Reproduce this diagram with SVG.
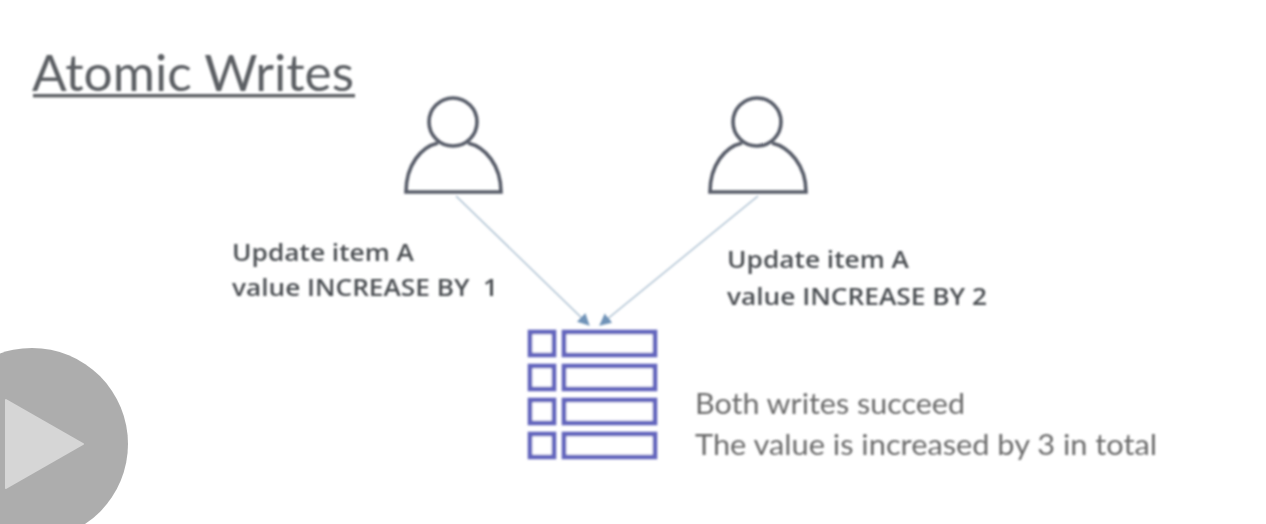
<svg xmlns="http://www.w3.org/2000/svg" width="1266" height="524" viewBox="0 0 1266 524">
<defs>
<filter id="blur" x="-10%" y="-10%" width="120%" height="120%"><feGaussianBlur stdDeviation="1.3"/></filter>
<marker id="arrow" markerUnits="userSpaceOnUse" markerWidth="14" markerHeight="14" refX="11" refY="6" orient="auto"><path d="M0,0 L12,6 L0,12 Z" fill="#6f93b8"/></marker>
</defs>
<style>
.person{fill:none;stroke:#565b68;stroke-width:3.6}
.cell{fill:#fff;stroke:#6466bd;stroke-width:4.6}
.conn{fill:none;stroke:#a4bacd;stroke-width:1.3;marker-end:url(#arrow)}
.label{font-family:"Open Sans","Liberation Sans",sans-serif;font-size:23px;font-weight:600;fill:#4c4f53}
.note{font-family:Lato,"Open Sans",sans-serif;font-size:28px;fill:#6a6a6a}
.title{font-family:Lato,"Liberation Sans",sans-serif;font-size:50px;font-weight:400;fill:#5c5f63}
</style>
<rect width="1266" height="524" fill="#fff"/>
<g filter="url(#blur)">
<g id="title">
<text class="title" x="32" y="91" textLength="322" lengthAdjust="spacingAndGlyphs">Atomic Writes</text>
<rect x="33" y="94" width="322" height="3.4" fill="#5c5f63"/>
</g>
<g id="user-1" class="person">
<circle cx="453" cy="122" r="24"/>
<path d="M438,143 C421,147 406,165 406,192 H501 C501,165 485,147 468,143"/>
</g>
<g id="user-2" class="person">
<circle cx="757" cy="122" r="24"/>
<path d="M742,143 C725,147 710,165 710,192 H806 C806,165 789,147 772,143"/>
</g>
<g id="connectors">
<path class="conn" d="M456,196 L589,325"/>
<path class="conn" d="M758,196 L600,325"/>
</g>
<g id="label-1">
<text class="label" x="232" y="261" textLength="182" lengthAdjust="spacingAndGlyphs">Update item A</text>
<text class="label" x="232" y="296" textLength="266" lengthAdjust="spacingAndGlyphs" xml:space="preserve">value INCREASE BY  1</text>
</g>
<g id="label-2">
<text class="label" x="727" y="268" textLength="182" lengthAdjust="spacingAndGlyphs">Update item A</text>
<text class="label" x="727" y="305" textLength="260" lengthAdjust="spacingAndGlyphs">value INCREASE BY 2</text>
</g>
<g id="table">
<rect class="cell" x="530" y="332" width="24" height="23"/><rect class="cell" x="564" y="332" width="91" height="23"/>
<rect class="cell" x="530" y="366" width="24" height="23"/><rect class="cell" x="564" y="366" width="91" height="23"/>
<rect class="cell" x="530" y="400" width="24" height="23"/><rect class="cell" x="564" y="400" width="91" height="23"/>
<rect class="cell" x="530" y="434" width="24" height="23"/><rect class="cell" x="564" y="434" width="91" height="23"/>
</g>
<g id="note">
<text class="note" x="695" y="414" textLength="270" lengthAdjust="spacingAndGlyphs">Both writes succeed</text>
<text class="note" x="695" y="455" textLength="462" lengthAdjust="spacingAndGlyphs">The value is increased by 3 in total</text>
</g>
</g>
<g id="play-button">
<circle cx="32" cy="444" r="96" fill="#adadad"/>
<path d="M6,400 L83,444 L6,488 Z" fill="#d6d6d6" stroke="#d6d6d6" stroke-width="2" stroke-linejoin="round"/>
</g>
</svg>
